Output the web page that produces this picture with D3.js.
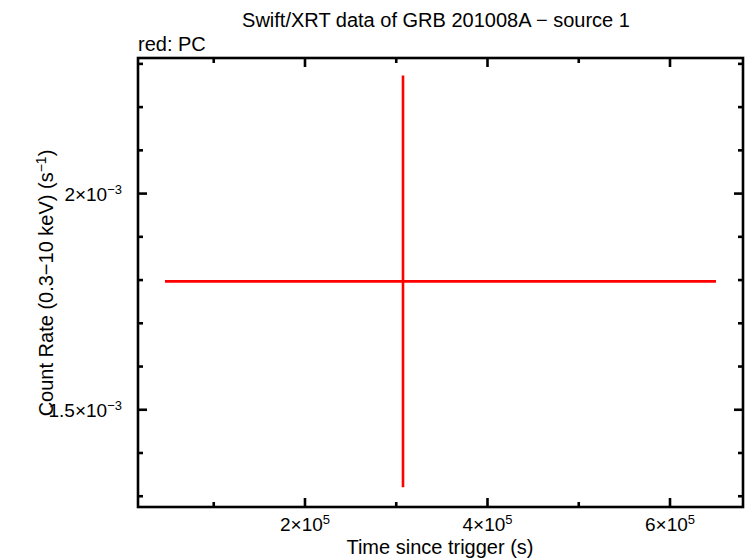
<!DOCTYPE html>
<html><head><meta charset="utf-8">
<script src="https://cdn.jsdelivr.net/npm/d3@7"></script>
<style>body{margin:0;background:#fff}svg{display:block}text{font-family:"Liberation Sans",Arial,sans-serif;fill:#000}</style>
</head><body><div id="chart"></div>
<script>
// Data
const times = [3.074e5];
const timeErrLo = [2.608e5];
const timeErrHi = [3.430e5];
const rates = [1.797e-3];
const rateErr = [0.476e-3];
// Axes
const xDomain = [1.7e4, 6.8e5];
const yDomain = [1.2751e-3, 2.3136e-3];
const xMajor = [2e5, 4e5, 6e5];
const xMajorLabels = [["2", "5"], ["4", "5"], ["6", "5"]];
const xMinor = [1e5, 3e5, 5e5];
const yMajor = [1.5e-3, 2e-3];
const yMajorLabels = [["1.5", "−3"], ["2", "−3"]];
const yMinor = [1.3e-3, 1.4e-3, 1.6e-3, 1.7e-3, 1.8e-3, 1.9e-3, 2.1e-3, 2.2e-3, 2.3e-3];
const title = "Swift/XRT data of GRB 201008A − source 1";
const subtitle = "red: PC";
const xLabel = "Time since trigger (s)";

const W = 746, H = 558;
const m = {left: 138, right: 743, top: 58, bottom: 507};
const svg = d3.select("#chart").append("svg").attr("width", W).attr("height", H);
const x = d3.scaleLinear().domain(xDomain).range([m.left, m.right]);
const y = d3.scaleLinear().domain(yDomain).range([m.bottom, m.top]);

// ticks
const g = svg.append("g").attr("stroke", "#000").attr("stroke-width", 2.6);
function ticks(vals, len) {
  vals.forEach(v => {
    const px = x(v);
    g.append("line").attr("x1", px).attr("x2", px).attr("y1", m.bottom).attr("y2", m.bottom - len);
    g.append("line").attr("x1", px).attr("x2", px).attr("y1", m.top).attr("y2", m.top + len);
  });
}
function yticks(vals, len) {
  vals.forEach(v => {
    const py = y(v);
    g.append("line").attr("y1", py).attr("y2", py).attr("x1", m.left).attr("x2", m.left + len);
    g.append("line").attr("y1", py).attr("y2", py).attr("x1", m.right).attr("x2", m.right - len);
  });
}
ticks(xMajor, 9); ticks(xMinor, 5);
yticks(yMajor, 9); yticks(yMinor, 5);

// data
const d = svg.append("g").attr("stroke", "#ff0000").attr("stroke-width", 2.6);
times.forEach((t, i) => {
  d.append("line").attr("x1", x(t - timeErrLo[i])).attr("x2", x(t + timeErrHi[i]))
    .attr("y1", y(rates[i])).attr("y2", y(rates[i]));
  d.append("line").attr("x1", x(t)).attr("x2", x(t))
    .attr("y1", y(rates[i] - rateErr[i])).attr("y2", y(rates[i] + rateErr[i]));
});

// frame
svg.append("rect").attr("x", m.left).attr("y", m.top).attr("width", m.right - m.left)
  .attr("height", m.bottom - m.top).attr("fill", "none").attr("stroke", "#000").attr("stroke-width", 2.6);

// tick labels
xMajor.forEach((v, i) => {
  const t = svg.append("text").attr("x", x(v)).attr("y", 531).attr("text-anchor", "middle").attr("font-size", 19);
  t.append("tspan").text(xMajorLabels[i][0] + "×10");
  t.append("tspan").attr("font-size", 13).attr("dy", -7).text(xMajorLabels[i][1]);
});
yMajor.forEach((v, i) => {
  const t = svg.append("text").attr("x", 122).attr("y", y(v) + 7).attr("text-anchor", "end").attr("font-size", 19);
  t.append("tspan").text(yMajorLabels[i][0] + "×10");
  t.append("tspan").attr("font-size", 13).attr("dy", -7).text(yMajorLabels[i][1]);
});

// titles
svg.append("text").attr("x", 436).attr("y", 27).attr("text-anchor", "middle").attr("font-size", 20).text(title);
svg.append("text").attr("x", 138).attr("y", 51).attr("font-size", 20).text(subtitle);
svg.append("text").attr("x", 440).attr("y", 554).attr("text-anchor", "middle").attr("font-size", 20).text(xLabel);
const yl = svg.append("text").attr("transform", "translate(53,283) rotate(-90)").attr("text-anchor", "middle").attr("font-size", 20);
yl.append("tspan").text("Count Rate (0.3−10 keV) (s");
yl.append("tspan").attr("font-size", 14).attr("dy", -7).text("−1");
yl.append("tspan").attr("dy", 7).text(")");
</script></body></html>
